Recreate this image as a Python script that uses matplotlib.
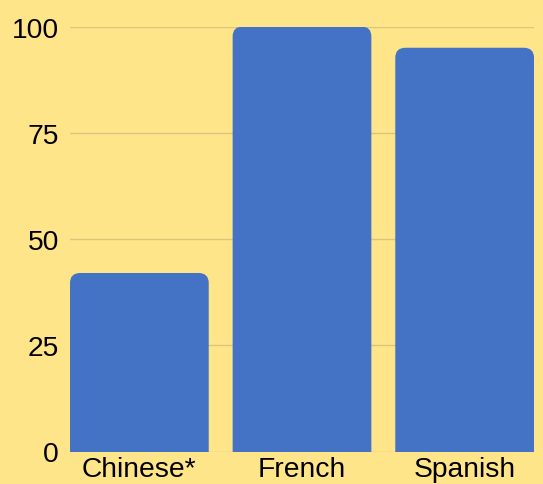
import matplotlib
matplotlib.use("Agg")
import matplotlib.pyplot as plt
from matplotlib.patches import FancyBboxPatch

# data
languages = ["Chinese*", "French", "Spanish"]
scores = [42, 100, 95]
yticks = [0, 25, 50, 75, 100]

bg = "#FFE58A"
barColor = "#4472C4"
gridColor = "#D8C57F"
barWidth = 0.853

plt.rcParams["font.family"] = ["Liberation Sans", "DejaVu Sans"]

fig = plt.figure(figsize=(5.43, 4.85), dpi=100, facecolor=bg)
ax = fig.add_axes([70/543, 32.5/485, 464/543, 425/485], facecolor=bg)

bars = ax.bar(range(len(languages)), scores, width=barWidth, color=barColor, zorder=2)

# swap the plain bars for ones with rounded top corners
# (bottom corners go below 0 and get clipped by the axes)
for b in bars:
    x, w, h = b.get_x(), b.get_width(), b.get_height()
    b.set_visible(False)
    rounded = FancyBboxPatch((x, -5), w, h + 5,
                             boxstyle="round,pad=0,rounding_size=0.062",
                             mutation_aspect=38, facecolor=barColor,
                             edgecolor="none", zorder=2)
    ax.add_patch(rounded)

ax.set_xlim(-barWidth/2, len(languages) - 1 + barWidth/2)
ax.set_ylim(0, 100)
ax.set_yticks(yticks)
ax.set_xticks(range(len(languages)))
ax.set_xticklabels(languages)

ax.grid(axis="y", color=gridColor, linewidth=1, zorder=0)
ax.set_axisbelow(True)
for s in ax.spines.values():
    s.set_visible(False)
ax.tick_params(length=0, labelsize=20.3, colors="black")
ax.tick_params(axis="y", pad=8)
ax.tick_params(axis="x", pad=3.5)

fig.savefig("out.png", dpi=100, facecolor=bg)
